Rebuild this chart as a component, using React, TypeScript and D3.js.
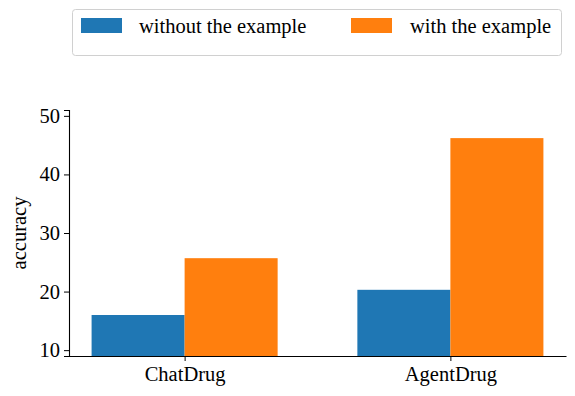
import React, { useEffect, useRef } from "react";
import * as d3 from "d3";

const categories = ["ChatDrug", "AgentDrug"];
const seriesNames = ["without the example", "with the example"];
const withoutExample = [16.0, 20.3];
const withExample = [25.7, 46.2];
const yTicks = [10, 20, 30, 40, 50];
const colors = ["#1f77b4", "#ff7f0e"];

const FONT = "Liberation Serif";

export default function App() {
  const ref = useRef<SVGSVGElement>(null);

  useEffect(() => {
    const svg = d3.select(ref.current);
    svg.selectAll("*").remove();

    const barW = 0.35;

    const x = d3.scaleLinear().domain([-0.435, 1.435]).range([69, 566]);
    const y = d3.scaleLinear().domain([9.0, 51.0]).range([356, 110]);

    const series = [withoutExample, withExample];

    series.forEach((vals, si) => {
      svg
        .append("g")
        .selectAll("rect")
        .data(vals)
        .enter()
        .append("rect")
        .attr("x", (_, i) => x(i + (si === 0 ? -barW : 0)))
        .attr("width", x(barW) - x(0))
        .attr("y", (d) => y(d))
        .attr("height", (d) => y(y.domain()[0]) - y(d))
        .attr("fill", colors[si]);
    });

    const yAxis = svg
      .append("g")
      .attr("transform", `translate(${x.range()[0]},0)`)
      .call(d3.axisLeft(y).tickValues(yTicks).tickSize(5).tickPadding(4));
    yAxis.attr("font-family", FONT).attr("font-size", 20.5);
    yAxis.select(".domain").attr("stroke", "#000").attr("stroke-width", 1.1);
    yAxis.selectAll("text").attr("fill", "#000");

    const xAxis = svg
      .append("g")
      .attr("transform", `translate(0,${y.range()[0]})`)
      .call(
        d3
          .axisBottom(x)
          .tickValues(categories.map((_, i) => i))
          .tickFormat((d) => categories[d as number])
          .tickSize(5)
          .tickSizeOuter(0)
          .tickPadding(5)
      );
    xAxis.attr("font-family", FONT).attr("font-size", 20.5);
    xAxis.select(".domain").attr("stroke", "#000").attr("stroke-width", 1.1);
    xAxis.selectAll("text").attr("fill", "#000");

    svg
      .append("text")
      .attr("transform", `translate(26,${(y.range()[0] + y.range()[1]) / 2}) rotate(-90)`)
      .attr("text-anchor", "middle")
      .attr("font-family", FONT)
      .attr("font-size", 20.5)
      .text("accuracy");

    // legend
    const lg = svg.append("g");
    lg.append("rect")
      .attr("x", 72.5)
      .attr("y", 9.5)
      .attr("width", 489)
      .attr("height", 46)
      .attr("rx", 3)
      .attr("fill", "#fff")
      .attr("stroke", "#d0d0d0");
    const items = [
      { px: 81, tx: 139 },
      { px: 351, tx: 410 },
    ];
    seriesNames.forEach((name, i) => {
      lg.append("rect")
        .attr("x", items[i].px)
        .attr("y", 18)
        .attr("width", 41)
        .attr("height", 15)
        .attr("fill", colors[i]);
      lg.append("text")
        .attr("x", items[i].tx)
        .attr("y", 33)
        .attr("font-family", FONT)
        .attr("font-size", 20.5)
        .text(name);
    });
  }, []);

  return (
    <svg
      ref={ref}
      width={575}
      height={396}
      style={{ position: "absolute", left: 0, top: 0, background: "#fff" }}
    />
  );
}
